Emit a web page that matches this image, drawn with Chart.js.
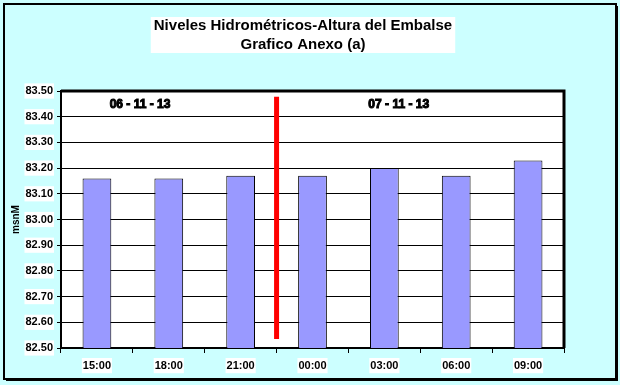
<!DOCTYPE html>
<html>
<head>
<meta charset="utf-8">
<script src="https://cdn.jsdelivr.net/npm/chart.js@4/dist/chart.umd.min.js"></script>
<style>
html,body{margin:0;padding:0;background:#CCFFFF;}
#wrap{width:620px;height:385px;position:relative;}
</style>
</head>
<body>
<div id="wrap"><canvas id="c" width="620" height="385"></canvas></div>
<script>
const categories = ["15:00","18:00","21:00","00:00","03:00","06:00","09:00"];
const levels = [83.16, 83.16, 83.17, 83.17, 83.20, 83.17, 83.23];
const titleLines = ["Niveles Hidrométricos-Altura del Embalse", "Grafico Anexo (a)"];
const yAxisTitle = "msnM";
const dayLabels = ["06 - 11 - 13", "07 - 11 - 13"];
const dayLabelPos = [0.6, 4.2];       // category-index positions
const dayLabelValue = 83.445;
const dividerIndex = 2.5;             // between 21:00 and 00:00
const dividerRange = [82.535, 83.478];

const decor = {
  id: 'decor',
  beforeDraw(chart) {
    const ctx = chart.ctx;
    ctx.save();
    ctx.fillStyle = '#CCFFFF';
    ctx.fillRect(0, 0, chart.width, chart.height);
    // outer frame with shadow
    ctx.strokeStyle = '#000';
    ctx.lineWidth = 2;
    ctx.strokeRect(4, 4, 612, 375);
    ctx.fillStyle = '#000';
    ctx.fillRect(616, 6, 2, 375);
    ctx.fillRect(6, 379, 612, 2);
    // title
    ctx.font = 'bold 15px "Liberation Sans", Arial, sans-serif';
    ctx.textAlign = 'center';
    ctx.textBaseline = 'middle';
    const cx = 303;
    const w = Math.max(...titleLines.map(t => ctx.measureText(t).width)) + 6;
    ctx.fillStyle = '#fff';
    ctx.fillRect(cx - w / 2, 17, w, 36);
    ctx.fillStyle = '#000';
    ctx.fillText(titleLines[0], cx, 26);
    ctx.fillText(titleLines[1], cx, 45);
    // plot area background
    const a = chart.chartArea;
    ctx.fillStyle = '#fff';
    ctx.fillRect(a.left, a.top, a.right - a.left, a.bottom - a.top);
    ctx.restore();
  },
  afterDatasetsDraw(chart) {
    const ctx = chart.ctx;
    const x = chart.scales.x, y = chart.scales.y;
    const a = chart.chartArea;
    ctx.save();
    // divider
    const px = x.getPixelForValue(dividerIndex);
    ctx.strokeStyle = '#FF0000';
    ctx.lineWidth = 5;
    ctx.beginPath();
    ctx.moveTo(px, y.getPixelForValue(dividerRange[1]));
    ctx.lineTo(px, y.getPixelForValue(dividerRange[0]));
    ctx.stroke();
    // day labels
    ctx.font = '900 12px "Liberation Sans", Arial, sans-serif';
    ctx.textAlign = 'center';
    ctx.textBaseline = 'middle';
    ctx.fillStyle = '#000';
    ctx.strokeStyle = '#000';
    ctx.lineWidth = 1;
    dayLabels.forEach((t, i) => {
      const lx = x.getPixelForValue(dayLabelPos[i]);
      const ly = y.getPixelForValue(dayLabelValue);
      ctx.fillText(t, lx, ly);
      ctx.strokeText(t, lx, ly);
    });
    // plot border
    ctx.lineWidth = 3;
    ctx.strokeStyle = '#000';
    ctx.beginPath();
    ctx.moveTo(a.left, a.top);
    ctx.lineTo(a.right, a.top);
    ctx.lineTo(a.right, a.bottom);
    ctx.stroke();
    ctx.restore();
  }
};

new Chart(document.getElementById('c'), {
  type: 'bar',
  data: {
    labels: categories,
    datasets: [{
      data: levels,
      backgroundColor: '#9999FF',
      borderColor: '#000',
      borderWidth: 1,
      borderSkipped: 'bottom',
      categoryPercentage: 1.0,
      barPercentage: 0.4
    }]
  },
  plugins: [decor],
  options: {
    responsive: false,
    animation: false,
    devicePixelRatio: 1,
    layout: { padding: { left: 10, right: 56, top: 91, bottom: 8 } },
    plugins: { legend: { display: false }, tooltip: { enabled: false }, title: { display: false } },
    scales: {
      x: {
        grid: { display: true, drawOnChartArea: false, drawTicks: true, tickLength: 5, color: '#000', offset: true },
        border: { display: true, color: '#000', width: 2 },
        ticks: {
          color: '#000',
          font: { family: '"Liberation Sans", Arial, sans-serif', size: 11, weight: 'bold' },
          padding: 6,
          maxRotation: 0,
          showLabelBackdrop: true,
          backdropColor: '#fff',
          backdropPadding: 1
        },
        afterFit(s) { s.height = 29; }
      },
      y: {
        min: 82.5,
        max: 83.5,
        grid: { color: '#000', lineWidth: 1, drawTicks: true, tickLength: 4 },
        border: { display: true, color: '#000', width: 2 },
        ticks: {
          stepSize: 0.1,
          color: '#000',
          font: { family: '"Liberation Sans", Arial, sans-serif', size: 11, weight: 'bold' },
          padding: 4,
          callback: v => Number(v).toFixed(2),
          showLabelBackdrop: true,
          backdropColor: '#fff',
          backdropPadding: 1
        },
        title: {
          display: true,
          text: yAxisTitle,
          color: '#000',
          font: { family: '"Liberation Sans", Arial, sans-serif', size: 10, weight: 'bold' },
          padding: 0
        },
        afterFit(s) { s.width = 51; }
      }
    }
  }
});
</script>
</body>
</html>
